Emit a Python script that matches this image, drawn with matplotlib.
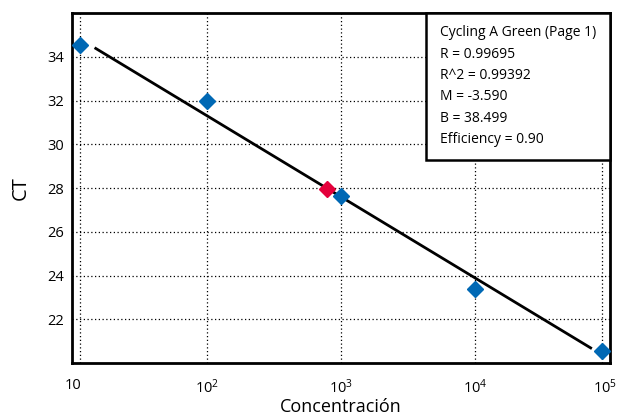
import matplotlib
matplotlib.use("Agg")
import matplotlib.pyplot as plt
import matplotlib.transforms as mtransforms
from matplotlib.patches import Rectangle

plt.rcParams['font.family'] = ['Open Sans', 'DejaVu Sans']
plt.rcParams['mathtext.fontset'] = 'custom'
plt.rcParams['mathtext.rm'] = 'Open Sans'
plt.rcParams['mathtext.it'] = 'Open Sans'

# standards (blue) and sample (red)
std_x = [11.3, 100, 1000, 10000, 88700]
std_ct = [34.53, 32.0, 27.65, 23.39, 20.55]
sample_x = [787]
sample_ct = [27.97]

# fitted line end points
fit_x = [14.8, 72900]
fit_ct = [34.38, 20.69]

xtick_vals = [10, 100, 1000, 10000, 100000]
xtick_labels = ['10', '$10^2$', '$10^3$', '$10^4$', '$10^5$']
ytick_vals = [22, 24, 26, 28, 30, 32, 34]

info_lines = ['Cycling A Green (Page 1)', 'R = 0.99695', 'R^2 = 0.99392',
              'M = -3.590', 'B = 38.499', 'Efficiency = 0.90']

fig = plt.figure(figsize=(6.18, 4.2), dpi=100)
ax = fig.add_axes([72/618, 1-363/420, 538/618, 350/420])

ax.set_xscale('log')
ax.set_xlim(10**0.993, 10**5.007)
ax.set_ylim(20, 36)

# grid: vertical lines at the standards, horizontal at the y ticks
for gx in std_x:
    ax.axvline(gx, color='black', linestyle=(0, (1, 2)), linewidth=0.9, zorder=1)
for gy in ytick_vals:
    ax.axhline(gy, color='black', linestyle=(0, (1, 2)), linewidth=0.9, zorder=1)

ax.plot(fit_x, fit_ct, color='black', linewidth=2, zorder=2)
ax.plot(std_x, std_ct, linestyle='none', marker='D', markersize=8.5,
        color='#0068B4', zorder=3)
ax.plot(sample_x, sample_ct, linestyle='none', marker='D', markersize=8.5,
        color='#E4003B', zorder=3)

ax.set_xticks(xtick_vals)
ax.set_xticklabels(xtick_labels)
ax.minorticks_off()
ax.set_yticks(ytick_vals)
ax.tick_params(axis='both', direction='in', length=0, labelsize=10.5)
ax.tick_params(axis='x', pad=11)
ax.tick_params(axis='y', pad=6)

# nudge the last x label so it stays inside the figure
last = ax.get_xticklabels()[-1]
last.set_transform(last.get_transform() +
                   mtransforms.ScaledTranslation(-4/100, 0, fig.dpi_scale_trans))

for sp in ax.spines.values():
    sp.set_linewidth(2)

ax.set_xlabel('Concentración', fontsize=13, labelpad=1)
ax.set_ylabel('CT', fontsize=14.5, labelpad=12)

# info box
ax.add_patch(Rectangle((0.658, 0.58), 0.342, 0.42, transform=ax.transAxes,
                       facecolor='white', edgecolor='black', linewidth=1.8,
                       zorder=5, clip_on=False))
for i, line in enumerate(info_lines):
    ax.text(0.684, 0.943 - i*0.061, line, transform=ax.transAxes,
            fontsize=10, va='center', ha='left', zorder=6)

fig.savefig('out.png', dpi=100)
